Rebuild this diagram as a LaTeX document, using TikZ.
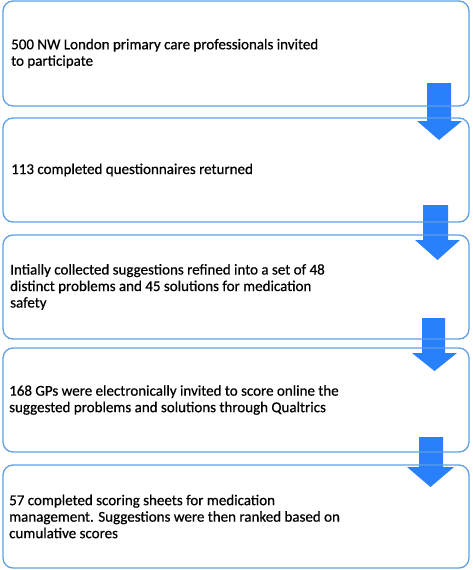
\documentclass[tikz,border=0pt]{standalone}
\usepackage{fontspec}
\setmainfont{Carlito}
\newfontfamily\boxfont{Carlito}[FakeBold=0.6]
\definecolor{boxline}{RGB}{95,160,228}
\definecolor{arrowfill}{RGB}{40,128,250}
\begin{document}
\begin{tikzpicture}[x=1pt,y=-1pt,
  stagebox/.style={draw=boxline,line width=1.3pt,rounded corners=10pt},
  stagetext/.style={anchor=west,align=left,inner sep=0pt,font=\boxfont\fontsize{15}{16.5}\selectfont},
  blockarrow/.style={fill=arrowfill,draw=none}]
\useasboundingbox (0,0) rectangle (473,570);
% arrows (drawn under the boxes)
\fill[blockarrow] (427,83) -- (451,83) -- (451,121) -- (462,121) -- (439,140) -- (417,121) -- (427,121) -- cycle;
\fill[blockarrow] (423,205) -- (448,205) -- (448,240) -- (460,240) -- (437.5,260) -- (415,240) -- (423,240) -- cycle;
\fill[blockarrow] (422,318) -- (445,318) -- (445,353) -- (457,353) -- (434.5,371) -- (412,353) -- (422,353) -- cycle;
\fill[blockarrow] (419,437) -- (443,437) -- (443,467) -- (454,467) -- (430.5,487) -- (407,467) -- (419,467) -- cycle;
% boxes
\draw[stagebox] (3,1) rectangle (469,106);
\draw[stagebox] (3,118) rectangle (469,222);
\draw[stagebox] (3,235) rectangle (469,339);
\draw[stagebox] (3,348) rectangle (469,452);
\draw[stagebox] (3,465) rectangle (469,568);
% texts
\node[stagetext] (t1) at (11,53.5) {500 NW London primary care professionals invited\\to participate};
\node[stagetext] (t2) at (11,170) {113 completed questionnaires returned};
\node[stagetext] (t3) at (10,287) {Intially collected suggestions refined into a set of 48\\distinct problems and 45 solutions for medication\\safety};
\node[stagetext] (t4) at (9,400) {168 GPs were electronically invited to score online the\\suggested problems and solutions through Qualtrics};
\node[stagetext] (t5) at (9,516.5) {57 completed scoring sheets for medication\\management. Suggestions were then ranked based on\\cumulative scores};
\end{tikzpicture}
\end{document}
